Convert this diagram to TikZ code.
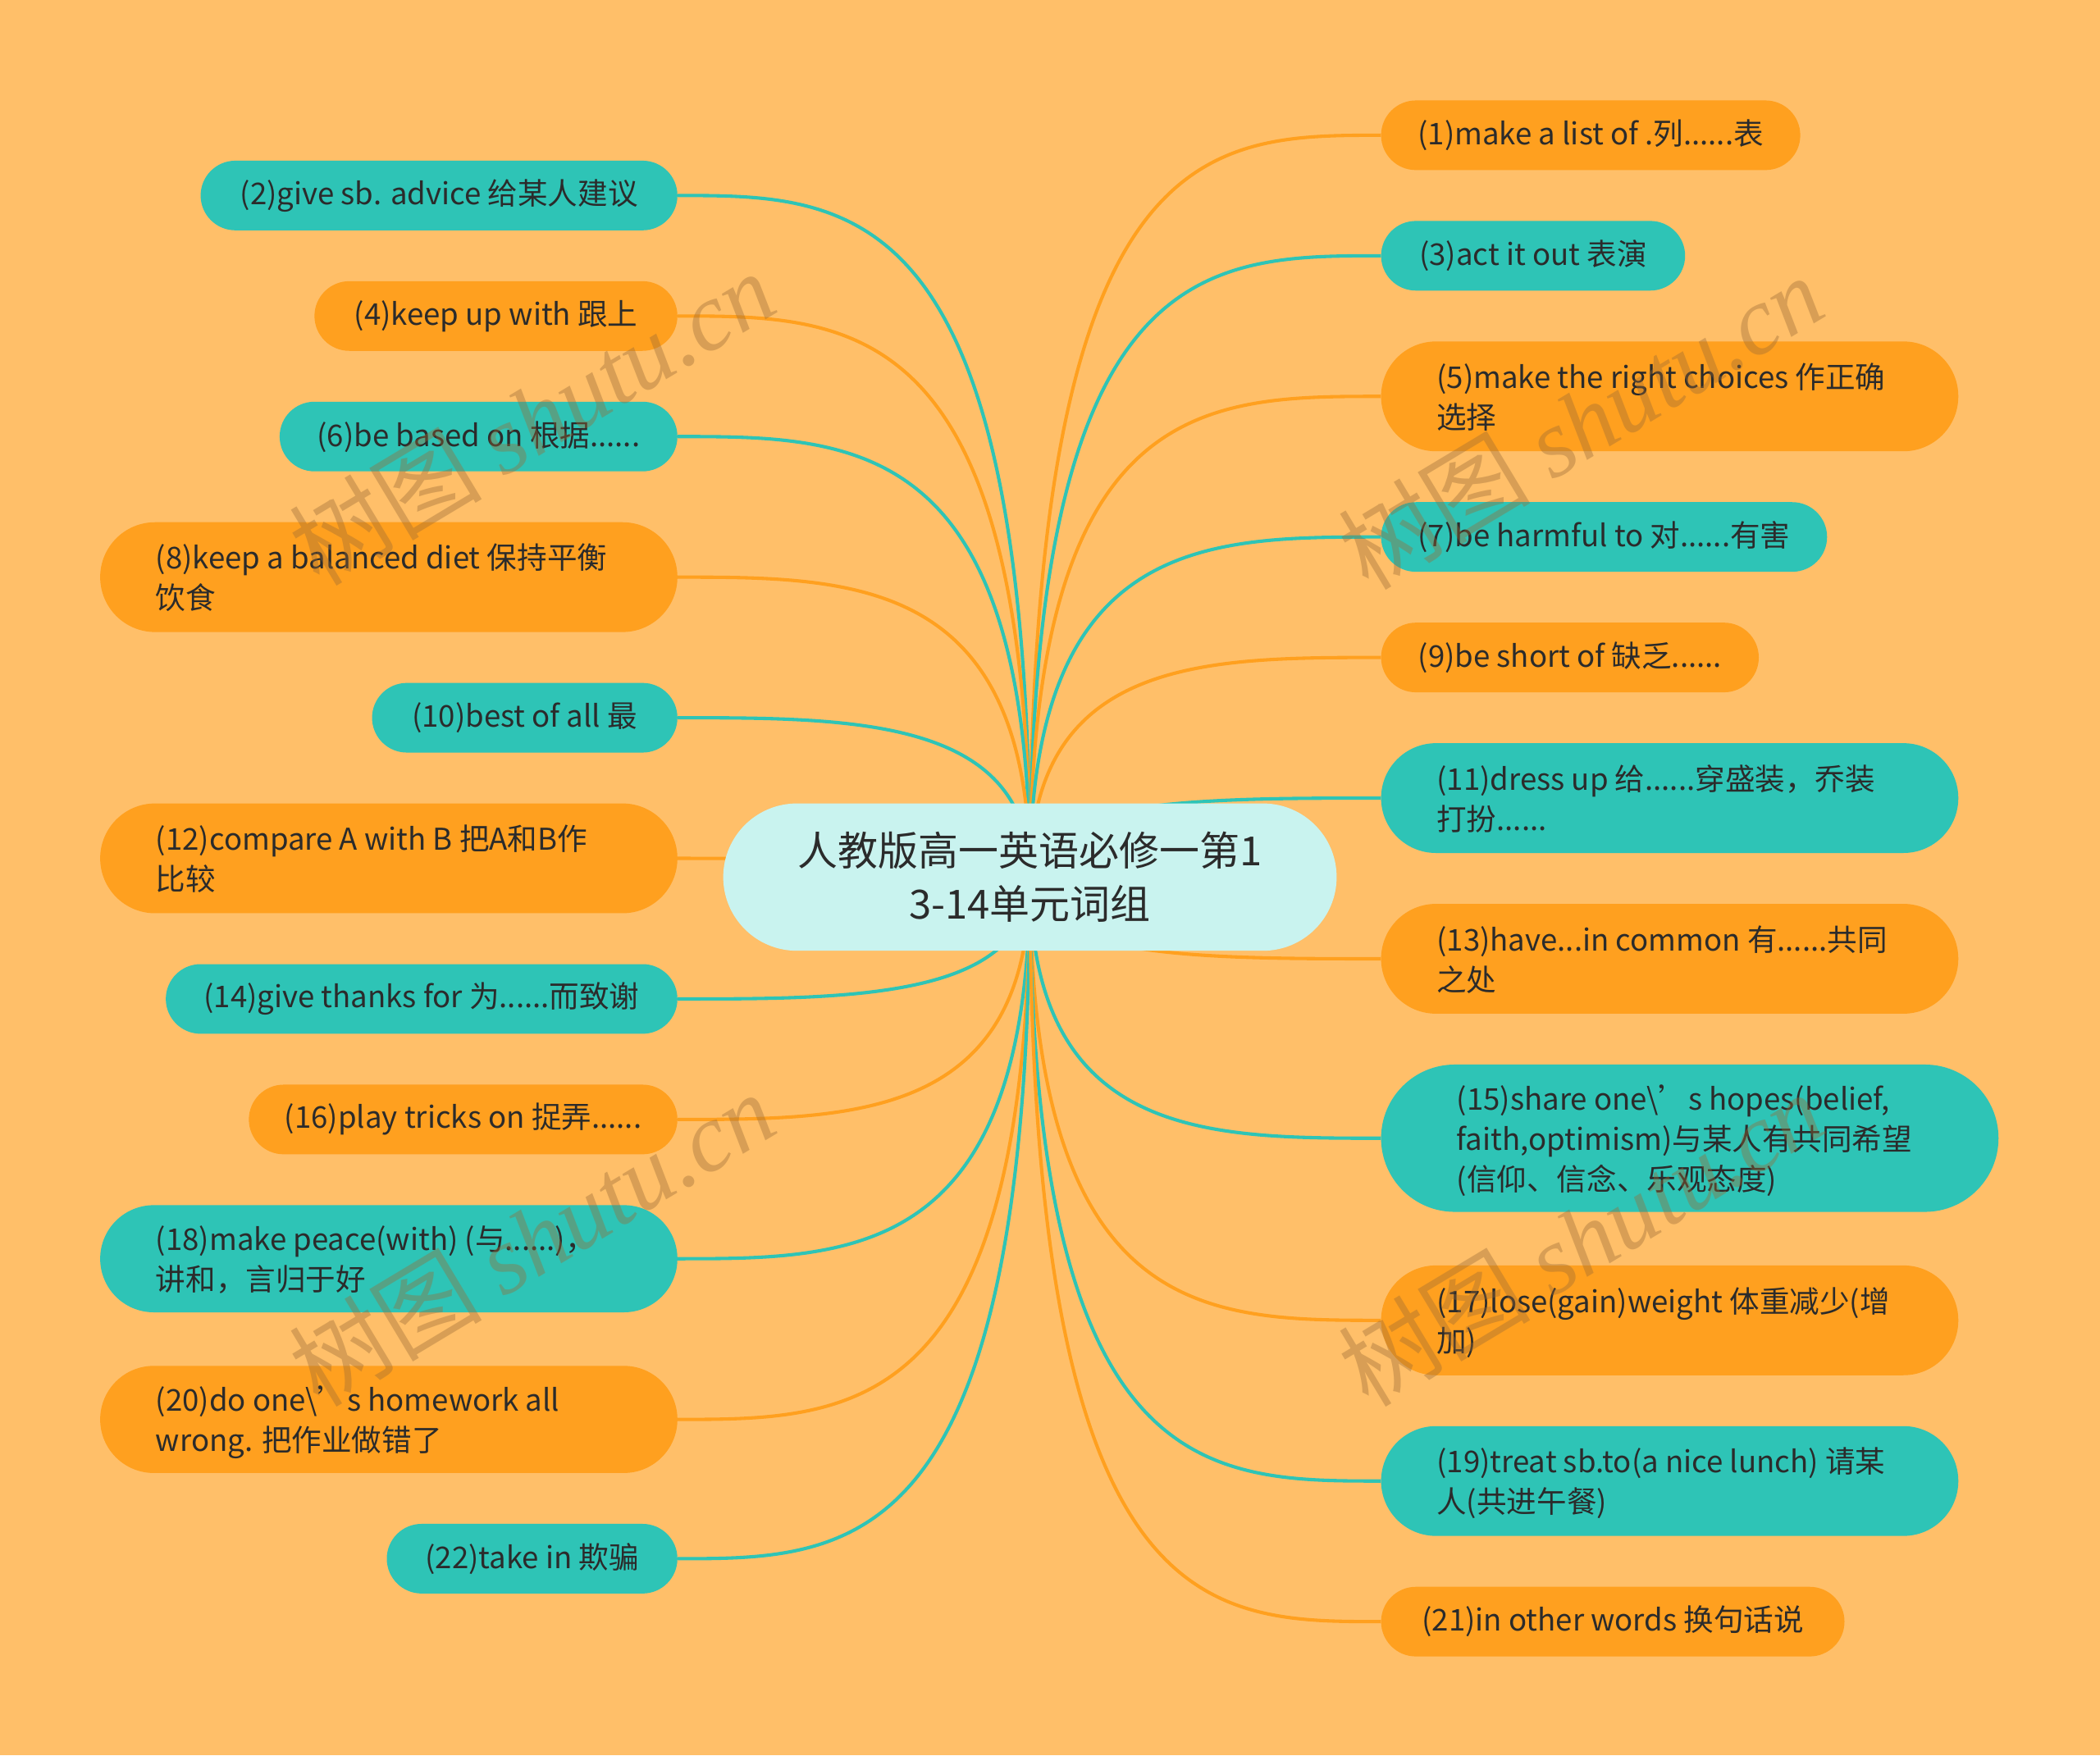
\documentclass[tikz,border=0pt]{standalone}
\usepackage{fontspec}
\setmainfont{Noto Sans CJK SC}
\newfontfamily\wmlatin{Liberation Serif}
\usetikzlibrary{shapes.misc,calc}
\definecolor{bgc}{HTML}{FFBF69}
\definecolor{tl}{HTML}{2EC4B6}
\definecolor{orc}{HTML}{FFA01F}
\definecolor{rootc}{HTML}{C9F3EF}
\definecolor{txt}{HTML}{2B2B2B}
\definecolor{wmc}{HTML}{9A6A35}
\pgfdeclarelayer{bglayer}
\pgfdeclarelayer{edgelayer}
\pgfsetlayers{bglayer,edgelayer,main}
\newcommand\conn[3]{\draw[#1] (root.center) .. controls (root.center |- #2.#3) and ($(root.center |- #2.#3)!0.5!(#2.#3)$) .. (#2.#3);}
\newcommand\mlines[1]{\raisebox{-3pt}[\height][\depth]{\makebox[348pt][l]{\begin{tabular}{@{}l@{}}#1\end{tabular}}}}
\begin{document}
\begin{tikzpicture}[x=1pt,y=-1pt,
  pill/.style={rounded rectangle, inner xsep=0pt, inner ysep=0pt, text=txt, align=left,
    font=\fontsize{22.4}{30}\selectfont},
  lnode/.style={pill, anchor=east},
  rnode/.style={pill, anchor=west},
  tlfill/.style={fill=tl},
  orfill/.style={fill=orc},
  tledge/.style={draw=tl, line width=2.5pt},
  oredge/.style={draw=orc, line width=2.5pt},
  wm/.style={rotate=31, text=wmc, opacity=0.38, font=\fontsize{72}{80}\selectfont}
]
\begin{pgfonlayer}{bglayer}
\fill[bgc] (0,0) rectangle (1568,1310.8);
\end{pgfonlayer}
\useasboundingbox (0,0) rectangle (1568,1310.8);

% root
\node[pill, fill=rootc, minimum width=458pt, minimum height=110pt, align=center,
  font=\fontsize{30}{40}\selectfont] (root) at (769,655) {人教版高一英语必修一第1\\3-14单元词组};

% left nodes
\node[lnode,tlfill,minimum width=356pt,minimum height=52pt] (n2) at (506,146) {(2)give sb. advice 给某人建议};
\node[lnode,orfill,minimum width=271pt,minimum height=52pt] (n4) at (506,236) {(4)keep up with 跟上};
\node[lnode,tlfill,minimum width=297pt,minimum height=52pt] (n6) at (506,326) {(6)be based on 根据......};
\node[lnode,orfill,minimum width=431pt,minimum height=82pt] (n8) at (506,431) {\mlines{(8)keep a balanced diet 保持平衡\\饮食}};
\node[lnode,tlfill,minimum width=228pt,minimum height=52pt] (n10) at (506,536) {(10)best of all 最};
\node[lnode,orfill,minimum width=431pt,minimum height=82pt] (n12) at (506,641) {\mlines{(12)compare A with B 把A和B作\\比较}};
\node[lnode,tlfill,minimum width=382pt,minimum height=52pt] (n14) at (506,746) {(14)give thanks for 为......而致谢};
\node[lnode,orfill,minimum width=320pt,minimum height=52pt] (n16) at (506,836) {(16)play tricks on 捉弄......};
\node[lnode,tlfill,minimum width=431pt,minimum height=80pt] (n18) at (506,940) {\mlines{(18)make peace(with) (与......)，\\讲和，言归于好}};
\node[lnode,orfill,minimum width=431pt,minimum height=80pt] (n20) at (506,1060) {\mlines{(20)do one\textbackslash’s homework all\\wrong. 把作业做错了}};
\node[lnode,tlfill,minimum width=217pt,minimum height=52pt] (n22) at (506,1164) {(22)take in 欺骗};

% right nodes
\node[rnode,orfill,minimum width=313pt,minimum height=52pt] (n1) at (1031,101) {(1)make a list of .列......表};
\node[rnode,tlfill,minimum width=227pt,minimum height=52pt] (n3) at (1031,191) {(3)act it out 表演};
\node[rnode,orfill,minimum width=431pt,minimum height=82pt] (n5) at (1031,296) {\mlines{(5)make the right choices 作正确\\选择}};
\node[rnode,tlfill,minimum width=333pt,minimum height=52pt] (n7) at (1031,401) {(7)be harmful to 对......有害};
\node[rnode,orfill,minimum width=282pt,minimum height=52pt] (n9) at (1031,491) {(9)be short of 缺乏......};
\node[rnode,tlfill,minimum width=431pt,minimum height=82pt] (n11) at (1031,596) {\mlines{(11)dress up 给......穿盛装，乔装\\打扮......}};
\node[rnode,orfill,minimum width=431pt,minimum height=82pt] (n13) at (1031,716) {\mlines{(13)have...in common 有......共同\\之处}};
\node[rnode,tlfill,minimum width=461pt,minimum height=110pt] (n15) at (1031,850) {\mlines{(15)share one\textbackslash’s hopes(belief,\\faith,optimism)与某人有共同希望\\(信仰、信念、乐观态度)}};
\node[rnode,orfill,minimum width=431pt,minimum height=82pt] (n17) at (1031,986) {\mlines{(17)lose(gain)weight 体重减少(增\\加)}};
\node[rnode,tlfill,minimum width=431pt,minimum height=82pt] (n19) at (1031,1106) {\mlines{(19)treat sb.to(a nice lunch) 请某\\人(共进午餐)}};
\node[rnode,orfill,minimum width=346pt,minimum height=52pt] (n21) at (1031,1211) {(21)in other words 换句话说};

% connectors
\begin{pgfonlayer}{edgelayer}
\conn{tledge}{n2}{east}
\conn{oredge}{n4}{east}
\conn{tledge}{n6}{east}
\conn{oredge}{n8}{east}
\conn{tledge}{n10}{east}
\conn{oredge}{n12}{east}
\conn{tledge}{n14}{east}
\conn{oredge}{n16}{east}
\conn{tledge}{n18}{east}
\conn{oredge}{n20}{east}
\conn{tledge}{n22}{east}
\conn{oredge}{n1}{west}
\conn{tledge}{n3}{west}
\conn{oredge}{n5}{west}
\conn{tledge}{n7}{west}
\conn{oredge}{n9}{west}
\conn{tledge}{n11}{west}
\conn{oredge}{n13}{west}
\conn{tledge}{n15}{west}
\conn{oredge}{n17}{west}
\conn{tledge}{n19}{west}
\conn{oredge}{n21}{west}
\end{pgfonlayer}

% watermarks
\node[wm] (wm1) at (397,312) {树图 {\wmlatin\itshape shutu.cn}};
\node[wm] (wm2) at (1180,315) {树图 {\wmlatin\itshape shutu.cn}};
\node[wm] (wm3) at (397,925) {树图 {\wmlatin\itshape shutu.cn}};
\node[wm] (wm4) at (1180,925) {树图 {\wmlatin\itshape shutu.cn}};
\end{tikzpicture}
\end{document}
